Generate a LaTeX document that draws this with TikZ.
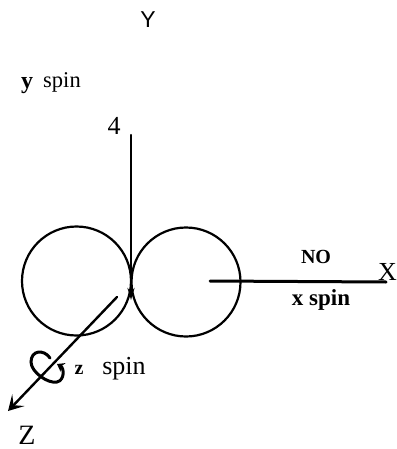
\documentclass[tikz,border=0pt]{standalone}
\usepackage{fontspec}
\setmainfont{Liberation Serif}
\newfontfamily\axisfont{Liberation Sans}
\usetikzlibrary{arrows.meta, positioning}
\tikzstyle{ball} = [circle, draw=black, line width=2.2pt, minimum size=109pt, inner sep=0pt]
\tikzstyle{label} = [inner sep=0pt, font=\fontsize{22.5}{24}\selectfont]
\tikzstyle{boldlabel} = [label, font=\fontsize{24}{26}\selectfont\bfseries]
\tikzstyle{axis} = [line width=2.4pt, color=black, line cap=round]
\tikzstyle{arrow} = [axis, -{Stealth[length=15pt, width=17pt, inset=7pt]}]

\begin{document}
\begin{tikzpicture}[x=1pt, y=-1pt]
    \useasboundingbox (0,0) rectangle (396,449);

    % Spheres
    \node[ball] (left) at (76.5,281) {};
    \node[ball] (right) at (186,282) {};

    % Axis ends
    \coordinate (ytop) at (131,135);
    \coordinate (yend) at (131,300);
    \coordinate (xstart) at (210,281);
    \coordinate (xend) at (386,282);
    \coordinate (zstart) at (117,297);
    \coordinate (zend) at (8,411);
    \coordinate (curlstart) at (50,358);
    \coordinate (curlend) at (57,364);

    % Arrows
    \draw[axis, -{Stealth[length=12pt, width=7pt]}] (ytop) -- (yend);
    \draw[axis, line width=3pt] (xstart) -- (xend);
    \draw[arrow] (zstart) -- (zend);
    \draw[axis, line width=3pt, -{Stealth[length=7pt, width=10pt]}] (curlstart) .. controls (44,349) and (31,350) .. (31,362)
        .. controls (31,372) and (48,384) .. (57,382) .. controls (65,380) and (64,368) .. (curlend);

    % Labels
    \node[inner sep=0pt, font=\axisfont\fontsize{23}{25}\selectfont] (ylabel) at (148,20) {Y};
    \node[boldlabel] (ybold) at (27,86) {y};
    \node[label] (yspin) at (62,82) {spin};
    \node[label, font=\fontsize{26}{28}\selectfont] (four) at (114,126) {4};
    \node[boldlabel, font=\fontsize{20}{22}\selectfont\bfseries] (nolabel) at (316,257) {NO};
    \node[boldlabel, font=\fontsize{23}{25}\selectfont\bfseries] (xspin) at (321,300) {x spin};
    \node[label, font=\fontsize{26}{28}\selectfont] (xlabel) at (387.5,272) {X};
    \node[boldlabel, font=\fontsize{20}{22}\selectfont\bfseries] (zbold) at (79,370) {z};
    \node[label, font=\fontsize{26}{28}\selectfont] (zspin) at (124,369) {spin};
    \node[label, font=\fontsize{28}{30}\selectfont] (zlabel) at (27,435) {Z};
\end{tikzpicture}
\end{document}
